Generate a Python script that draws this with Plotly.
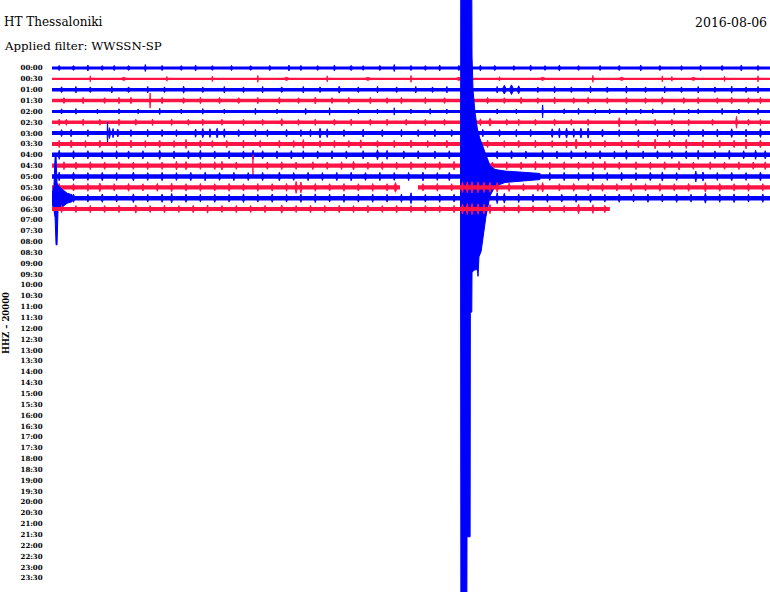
import plotly.graph_objects as go

# ---------------- data ----------------
time_labels = ["00:00", "00:30", "01:00", "01:30", "02:00", "02:30", "03:00", "03:30",
               "04:00", "04:30", "05:00", "05:30", "06:00", "06:30", "07:00", "07:30",
               "08:00", "08:30", "09:00", "09:30", "10:00", "10:30", "11:00", "11:30",
               "12:00", "12:30", "13:00", "13:30", "14:00", "14:30", "15:00", "15:30",
               "16:00", "16:30", "17:00", "17:30", "18:00", "18:30", "19:00", "19:30",
               "20:00", "20:30", "21:00", "21:30", "22:00", "22:30", "23:00", "23:30"]

# minutes covered by data in each recorded row (rows 00:00 .. 06:30)
row_start = [0.0] * 14
row_end = [30.0] * 13 + [23.31]
# data gap in row 05:30 (minutes)
gap_row = 11
gap_from, gap_to = 14.54, 15.29

# background noise level of each row (trace thickness, px)
noise_width = [3.0, 2.2, 3.4, 3.4, 3.0, 3.4, 4.0, 4.0, 4.6, 4.2, 4.6, 4.2, 4.6, 4.0]

# noise bursts per row: (minute, half amplitude in row units, duration in minutes)
s00 = [(0.3, .24, .1), (0.9, .22, .15), (1.5, .28, .08), (2.1, .22, .12), (2.6, .24, .1), (3.2, .22, .15),
       (3.9, .32, .08), (4.6, .24, .1), (5.4, .22, .12), (6.0, .28, .08), (6.7, .22, .12), (7.5, .24, .1),
       (8.3, .22, .15), (9.1, .24, .1), (9.9, .28, .08), (10.4, .24, .1), (11.1, .22, .12), (11.8, .28, .08),
       (12.5, .24, .15), (13.0, .22, .1), (13.7, .24, .12), (14.3, .32, .08), (15.0, .24, .12), (15.6, .22, .1),
       (16.2, .28, .08), (17.0, .24, .12), (17.9, .28, .08), (18.5, .24, .12), (19.3, .22, .1), (20.0, .28, .08),
       (20.6, .22, .12), (21.2, .28, .1), (22.0, .22, .12), (22.9, .24, .1), (23.7, .24, .12), (24.6, .28, .08),
       (25.4, .24, .12), (26.3, .22, .1), (27.1, .28, .08), (28.0, .24, .12), (28.8, .28, .08), (29.5, .24, .12)]
s01 = [(1.6, .28, .05), (3.0, .15, .3), (4.8, .22, .05), (6.7, .26, .05), (8.6, .32, .05), (9.8, .15, .3),
       (11.5, .28, .05), (13.2, .15, .3), (15.0, .32, .05), (17.0, .15, .3), (18.7, .2, .05), (20.5, .15, .3),
       (22.6, .32, .05), (23.8, .15, .3), (25.5, .28, .05), (25.9, .22, .05), (26.8, .15, .3), (28.1, .24, .05),
       (29.5, .28, .05)]
s02 = [(0.4, .27, .12), (1.0, .3, .08), (1.6, .26, .12), (2.5, .3, .08), (3.2, .26, .15), (4.0, .3, .08),
       (4.7, .26, .12), (5.5, .32, .1), (6.3, .26, .12), (7.2, .3, .08), (8.0, .26, .12), (8.8, .3, .08),
       (9.6, .26, .15), (10.5, .3, .08), (11.2, .26, .12), (12.0, .32, .1), (12.8, .26, .12), (13.6, .3, .08),
       (14.4, .26, .12), (15.2, .3, .08), (15.9, .26, .12), (16.5, .3, .08), (18.6, .3, .08), (18.9, .4, .2),
       (19.2, .45, .2), (19.5, .36, .15), (20.3, .26, .12), (21.0, .3, .08), (21.7, .26, .12), (22.5, .3, .08),
       (23.2, .26, .15), (24.0, .32, .08), (24.8, .26, .12), (25.6, .3, .08), (26.3, .26, .12), (27.0, .3, .08),
       (27.7, .26, .15), (28.4, .32, .08), (29.0, .26, .12), (29.5, .3, .08)]
s03 = [(0.5, .27, .12), (1.3, .3, .08), (2.2, .27, .12), (2.8, .3, .08), (3.3, .3, .1), (4.1, .7, .05),
       (4.6, .3, .1), (5.5, .27, .12), (6.2, .3, .08), (7.0, .3, .1), (7.8, .27, .15), (8.6, .3, .08),
       (9.5, .3, .1), (10.3, .27, .12), (11.0, .32, .08), (11.7, .27, .12), (12.4, .3, .1), (13.3, .3, .08),
       (14.0, .27, .12), (14.6, .3, .1), (15.6, .3, .08), (16.4, .27, .12), (17.2, .3, .1), (18.2, .3, .1),
       (18.9, .27, .12), (19.6, .3, .1), (20.3, .27, .12), (21.0, .32, .08), (21.8, .27, .12), (22.4, .3, .1),
       (23.2, .27, .12), (24.0, .3, .1), (24.8, .27, .12), (25.5, .34, .1), (26.4, .27, .12), (27.0, .3, .08),
       (27.8, .27, .12), (28.4, .3, .1), (29.1, .27, .12), (29.6, .3, .08)]
s04 = [(0.4, .24, .1), (1.0, .26, .08), (1.9, .22, .12), (2.8, .24, .1), (3.6, .22, .12), (4.5, .28, .08),
       (5.4, .22, .12), (6.3, .26, .08), (7.2, .22, .12), (8.5, .28, .08), (9.4, .22, .12), (10.6, .28, .08),
       (11.6, .34, .05), (12.8, .24, .1), (13.6, .22, .12), (14.3, .34, .05), (15.0, .22, .12), (15.8, .26, .08),
       (16.5, .22, .12), (18.6, .24, .1), (19.4, .22, .12), (20.5, .6, .05), (21.4, .24, .1), (22.0, .28, .08),
       (22.7, .22, .12), (23.3, .24, .1), (24.0, .28, .08), (24.6, .22, .12), (25.1, .24, .1), (26.0, .28, .08),
       (26.6, .22, .12), (27.0, .24, .1), (28.0, .28, .08), (28.7, .22, .12), (29.5, .28, .08)]
s05 = [(0.3, .3, .1), (0.6, .28, .12), (1.3, .3, .08), (2.0, .28, .12), (2.8, .3, .08), (3.5, .28, .12),
       (4.2, .3, .08), (5.0, .3, .1), (5.7, .28, .12), (6.3, .3, .08), (7.1, .28, .12), (8.0, .3, .1),
       (8.8, .28, .12), (9.6, .34, .12), (10.3, .28, .1), (11.0, .3, .08), (11.8, .28, .12), (12.5, .3, .1),
       (13.3, .28, .12), (14.0, .3, .08), (14.8, .28, .12), (15.6, .3, .1), (16.4, .28, .12), (17.9, .32, .1),
       (18.3, .36, .15), (19.0, .28, .12), (19.5, .3, .08), (20.2, .28, .12), (21.0, .3, .1), (21.7, .28, .12),
       (22.4, .3, .08), (23.7, .42, .1), (24.4, .3, .12), (25.2, .3, .08), (25.9, .28, .12), (26.6, .3, .1),
       (27.6, .28, .12), (28.6, .55, .08), (29.1, .28, .12), (29.6, .3, .08)]
s06 = [(0.4, .32, .1), (0.8, .34, .12), (1.5, .32, .1), (2.32, 1.0, .04), (2.4, .5, .1), (2.55, .42, .1),
       (2.75, .36, .12), (3.3, .32, .1), (4.0, .34, .08), (4.6, .32, .12), (5.2, .32, .1), (6.0, .38, .1),
       (6.3, .42, .12), (6.6, .4, .1), (6.9, .44, .12), (7.2, .4, .1), (7.8, .32, .12), (8.5, .34, .1),
       (9.0, .32, .1), (9.8, .34, .12), (10.4, .32, .1), (10.8, .34, .08), (11.2, .44, .12), (11.5, .4, .1),
       (12.2, .32, .12), (13.0, .36, .1), (13.8, .32, .12), (14.6, .34, .08), (15.3, .32, .12), (16.0, .34, .1),
       (16.7, .32, .12), (18.0, .34, .1), (18.7, .32, .12), (19.4, .34, .08), (20.0, .34, .1), (20.9, .4, .12),
       (21.2, .44, .1), (21.5, .46, .12), (21.8, .4, .1), (22.1, .44, .12), (22.4, .46, .1), (23.0, .36, .12),
       (23.7, .32, .1), (24.5, .34, .12), (25.3, .34, .1), (26.0, .36, .12), (26.6, .32, .1), (27.2, .34, .12),
       (27.8, .36, .1), (28.4, .4, .12), (29.0, .36, .1), (29.6, .4, .12)]
s07 = [(0.3, .34, .1), (0.8, .36, .12), (1.4, .32, .1), (2.0, .34, .12), (2.7, .32, .1), (3.3, .36, .12),
       (3.9, .32, .1), (4.5, .34, .12), (5.1, .32, .1), (5.6, .42, .1), (6.2, .36, .12), (6.7, .32, .1),
       (7.3, .34, .12), (8.0, .36, .1), (8.7, .32, .12), (9.5, .34, .1), (10.1, .32, .12), (10.5, .4, .1),
       (11.2, .32, .12), (11.8, .34, .1), (12.4, .32, .12), (12.9, .38, .1), (13.6, .32, .12), (14.3, .34, .1),
       (15.0, .36, .12), (15.7, .32, .1), (16.5, .34, .12), (17.3, .32, .1), (18.2, .34, .12), (18.9, .32, .1),
       (19.5, .34, .12), (20.2, .36, .1), (20.9, .32, .12), (21.5, .36, .1), (21.9, .46, .12), (22.5, .34, .1),
       (23.1, .32, .12), (23.8, .34, .1), (24.5, .36, .12), (25.2, .46, .1), (25.8, .34, .12), (26.5, .42, .1),
       (27.2, .34, .12), (27.9, .36, .1), (28.5, .34, .12), (29.0, .46, .1), (29.6, .36, .12)]
s08 = [(0.3, .42, .1), (0.9, .38, .12), (1.5, .38, .1), (2.1, .36, .12), (2.7, .38, .1), (3.2, .36, .12),
       (3.8, .38, .1), (4.5, .42, .12), (5.1, .36, .1), (5.7, .38, .12), (6.2, .42, .1), (6.8, .36, .12),
       (7.4, .38, .1), (8.0, .36, .12), (8.4, .42, .1), (8.8, .38, .12), (9.4, .36, .1), (10.0, .38, .12),
       (10.5, .38, .1), (11.1, .36, .12), (11.7, .38, .1), (12.3, .36, .12), (13.0, .38, .1), (13.6, .46, .12),
       (14.0, .42, .1), (14.7, .36, .12), (15.3, .38, .1), (16.0, .36, .12), (16.6, .38, .1), (17.5, .38, .12),
       (18.6, .36, .1), (19.2, .38, .12), (19.8, .36, .1), (20.5, .42, .12), (21.1, .36, .1), (21.7, .38, .12),
       (22.3, .36, .1), (22.9, .38, .12), (23.5, .36, .1), (24.0, .42, .12), (24.7, .36, .1), (25.3, .38, .12),
       (25.9, .36, .1), (26.5, .38, .12), (27.0, .42, .1), (27.7, .36, .12), (28.3, .42, .1), (28.9, .38, .12),
       (29.4, .42, .1), (29.8, .38, .12)]
s09 = [(0.5, .36, .1), (1.0, .34, .12), (1.6, .36, .1), (2.2, .34, .12), (2.8, .36, .1), (3.4, .34, .12),
       (4.0, .36, .1), (4.6, .34, .12), (5.2, .4, .1), (5.6, .38, .12), (6.2, .34, .1), (6.8, .36, .12),
       (7.1, .4, .1), (7.7, .34, .12), (8.4, 1.0, .03), (9.0, .34, .12), (9.6, .36, .1), (10.2, .34, .12),
       (10.9, .36, .1), (11.5, .34, .12), (12.1, .36, .1), (12.6, .4, .12), (13.2, .34, .1), (13.8, .36, .12),
       (14.4, .34, .1), (15.0, .36, .12), (15.6, .34, .1), (16.2, .36, .12), (16.8, .4, .1), (18.4, .34, .12),
       (19.0, .36, .1), (19.6, .34, .12), (20.2, .4, .1), (20.8, .34, .12), (21.4, .36, .1), (22.0, .34, .12),
       (22.6, .36, .1), (23.1, .4, .12), (23.7, .34, .1), (24.4, .36, .12), (25.0, .34, .1), (25.6, .36, .12),
       (26.2, .4, .1), (26.8, .34, .12), (27.5, .36, .1), (28.1, .34, .12), (28.7, .36, .1), (29.3, .34, .12),
       (29.8, .36, .1)]
s10 = [(0.3, .4, .1), (0.9, .38, .12), (1.5, .36, .1), (2.1, .38, .12), (2.7, .36, .1), (3.4, .4, .12),
       (4.0, .36, .1), (4.6, .38, .12), (5.2, .36, .1), (5.8, .38, .12), (6.4, .4, .1), (7.0, .36, .12),
       (7.6, .38, .1), (8.2, .36, .12), (8.8, .38, .1), (9.5, .4, .12), (10.1, .36, .1), (10.7, .38, .12),
       (11.3, .36, .1), (11.9, .38, .12), (12.5, .4, .1), (13.1, .36, .12), (13.7, .38, .1), (14.3, .36, .12),
       (14.9, .38, .1), (15.5, .4, .12), (16.1, .36, .1), (16.6, .38, .12), (20.8, .36, .1), (21.4, .38, .12),
       (22.0, .36, .1), (22.6, .4, .12), (23.2, .36, .1), (23.8, .38, .12), (24.4, .36, .1), (25.0, .38, .12),
       (25.5, .42, .1), (26.1, .36, .12), (26.9, .5, .1), (27.2, .42, .12), (27.8, .36, .1), (28.4, .38, .12),
       (29.0, .36, .1), (29.6, .4, .12)]
s11 = [(0.3, .36, .1), (0.9, .34, .12), (1.5, .36, .1), (2.0, .4, .12), (2.6, .34, .1), (3.2, .36, .12),
       (3.8, .34, .1), (4.4, .36, .12), (5.0, .4, .1), (5.6, .34, .12), (6.2, .36, .1), (6.8, .34, .12),
       (7.4, .36, .1), (8.0, .34, .12), (8.6, .36, .1), (9.2, .34, .12), (9.8, .36, .1), (10.2, .55, .12),
       (10.4, .5, .12), (11.0, .36, .1), (11.6, .34, .12), (12.2, .36, .1), (12.8, .34, .12), (13.4, .36, .1),
       (14.0, .34, .12), (14.35, .45, .15), (15.5, .34, .12), (16.1, .36, .1), (16.7, .34, .12), (17.15, .48, .12),
       (17.35, .5, .12), (17.55, .52, .12), (17.8, .5, .12), (18.05, .48, .12), (18.3, .46, .12), (18.6, .44, .12),
       (19.1, .38, .1), (19.7, .34, .12), (20.3, .36, .1), (20.5, .44, .12), (21.2, .34, .1), (21.8, .36, .12),
       (22.4, .34, .1), (23.0, .36, .12), (23.6, .34, .1), (24.2, .38, .12), (24.8, .34, .1), (25.4, .36, .12),
       (26.0, .34, .1), (26.6, .36, .12), (27.3, .44, .1), (27.9, .36, .12), (28.5, .34, .1), (29.1, .36, .12),
       (29.7, .34, .1)]
s12 = [(0.9, .38, .12), (1.5, .36, .1), (2.1, .38, .12), (2.7, .36, .1), (3.4, .4, .12), (4.0, .36, .1),
       (4.6, .38, .12), (5.0, .44, .1), (5.6, .38, .12), (6.2, .36, .1), (6.8, .38, .12), (7.4, .36, .1),
       (8.0, .4, .12), (8.6, .36, .1), (9.2, .38, .12), (9.8, .36, .1), (10.4, .38, .12), (11.0, .4, .1),
       (11.6, .36, .12), (12.2, .38, .1), (12.8, .36, .12), (13.4, .38, .1), (14.0, .36, .12), (14.6, .38, .1),
       (15.0, .5, .1), (15.6, .36, .12), (16.2, .38, .1), (16.8, .36, .12), (18.6, .5, .1), (18.9, .45, .12),
       (19.5, .4, .1), (20.1, .36, .12), (20.7, .38, .1), (21.3, .36, .12), (21.9, .38, .1), (22.5, .4, .12),
       (23.1, .36, .1), (23.7, .38, .12), (24.3, .36, .1), (24.9, .38, .12), (25.5, .36, .1), (26.1, .38, .12),
       (26.7, .36, .1), (27.3, .46, .12), (27.9, .38, .1), (28.5, .4, .12), (29.1, .36, .1), (29.7, .38, .12)]
s13 = [(0.4, .34, .1), (1.0, .32, .12), (1.6, .34, .1), (2.2, .32, .12), (2.8, .34, .1), (3.5, .38, .12),
       (4.1, .32, .1), (4.7, .34, .12), (5.3, .32, .1), (5.9, .34, .12), (6.5, .38, .1), (7.1, .32, .12),
       (7.7, .34, .1), (8.3, .32, .12), (8.9, .34, .1), (9.6, .38, .12), (10.2, .32, .1), (10.8, .34, .12),
       (11.4, .32, .1), (12.0, .34, .12), (12.6, .32, .1), (13.2, .34, .12), (13.8, .32, .1), (14.4, .34, .12),
       (15.0, .32, .1), (15.6, .34, .12), (16.2, .32, .1), (16.8, .34, .12), (17.15, .46, .12), (17.35, .5, .12),
       (17.55, .52, .12), (17.8, .48, .12), (18.05, .46, .12), (18.3, .42, .12), (18.9, .34, .1), (19.5, .38, .12),
       (20.1, .32, .1), (20.8, .34, .12), (21.4, .32, .1), (22.0, .44, .12), (22.6, .4, .1), (23.1, .34, .12)]

# teleseismic event in row 05:00 : envelopes in row units
quake_row = 10
quake_up_min = [17.07, 17.09, 17.51, 17.53, 17.55, 17.59, 17.67, 17.76, 17.80, 17.88, 17.97, 18.05,
                18.13, 18.22, 18.30, 18.51, 18.93, 19.55, 20.39]
quake_up = [0.2, 36.9, 36.9, 16.6, 11.1, 8.0, 6.0, 4.6, 4.1, 3.5, 3.0, 2.5,
            2.0, 1.5, 1.0, 0.65, 0.5, 0.41, 0.28]
quake_dn_min = [17.07, 17.09, 17.32, 17.34, 17.47, 17.48, 17.54, 17.55, 17.67, 17.78, 17.80, 17.84,
                17.93, 18.01, 18.13, 18.30, 18.51, 18.93, 19.55, 20.39]
quake_dn = [0.2, 55.3, 55.3, 33.2, 33.2, 12.5, 12.5, 8.8, 8.6, 8.6, 9.2, 7.4,
            6.9, 5.5, 3.7, 1.8, 0.9, 0.55, 0.41, 0.28]

# local event in row 06:00 : envelopes in row units
local_row = 12
local_min = [0.0, 0.08, 0.13, 0.17, 0.21, 0.25, 0.33, 0.46, 0.63, 0.84]
local_up = [0.46, 1.1, 3.8, 3.8, 1.4, 1.2, 1.0, 0.74, 0.46, 0.32]
local_dn = [0.46, 1.1, 1.8, 4.3, 4.3, 1.2, 1.0, 0.74, 0.46, 0.32]

station_title = "HT Thessaloniki"
filter_text = "Applied filter: WWSSN-SP"
date_text = "2016-08-06"
channel_text = "HHZ \u2013 20000"

# ---------------- drawing ----------------
BLUE = "#0000ff"
RED = "#ff1446"
FONT = "DejaVu Serif"

spike_rows = [s00, s01, s02, s03, s04, s05, s06, s07, s08, s09, s10, s11, s12, s13]
events = {quake_row: (quake_up_min, quake_up, quake_dn_min, quake_dn),
          local_row: (local_min, local_up, local_min, local_dn)}

fig = go.Figure()
for i, bursts in enumerate(spike_rows):
    color = BLUE if i % 2 == 0 else RED
    if i == gap_row:
        bx = [row_start[i], gap_from, None, gap_to, row_end[i]]
        by = [i, i, None, i, i]
    else:
        bx = [row_start[i], row_end[i]]
        by = [i, i]
    fig.add_trace(go.Scatter(x=bx, y=by, mode="lines", line=dict(color=color, width=noise_width[i]),
                             hoverinfo="skip", showlegend=False))
    sx, sy = [], []
    for m, a, d in bursts:
        sx += [m - d / 2, m, m + d / 2, m, m - d / 2, None]
        sy += [i, i - a, i, i + a, i, None]
    fig.add_trace(go.Scatter(x=sx, y=sy, mode="lines", fill="toself", fillcolor=color,
                             line=dict(color=color, width=0.9), hoverinfo="skip", showlegend=False))
    if i in events:
        um, uv, dm, dv = events[i]
        ex = list(um) + list(dm)[::-1]
        ey = [i - u for u in uv] + [i + d for d in dv][::-1]
        fig.add_trace(go.Scatter(x=ex, y=ey, mode="lines", fill="toself", fillcolor=color,
                                 line=dict(color=color, width=1), hoverinfo="skip", showlegend=False))

W, H = 770, 592
L = 52
PW = W - L


def px_x(p):
    return (p - L) / PW


def px_y(p):
    return 1 - p / H


fig.update_layout(
    width=W, height=H,
    margin=dict(l=L, r=0, t=0, b=0),
    paper_bgcolor="white", plot_bgcolor="white",
    showlegend=False,
    xaxis=dict(range=[0, 30], visible=False, fixedrange=True),
    yaxis=dict(range=[48.29, -6.267], tickmode="array", tickvals=list(range(len(time_labels))),
               ticktext=time_labels, showgrid=False, zeroline=False, showline=False,
               ticks="outside", ticklen=7, tickcolor="rgba(0,0,0,0)",
               tickfont=dict(family=FONT, size=7, color="black", weight="bold"), fixedrange=True),
    annotations=[
        dict(text=station_title, xref="paper", yref="paper", x=px_x(2), y=px_y(22), xanchor="left",
             yanchor="middle", showarrow=False, font=dict(family=FONT, size=12, color="black")),
        dict(text=filter_text, xref="paper", yref="paper", x=px_x(2), y=px_y(46), xanchor="left",
             yanchor="middle", showarrow=False, font=dict(family=FONT, size=11.8, color="black")),
        dict(text=date_text, xref="paper", yref="paper", x=px_x(769), y=px_y(23), xanchor="right",
             yanchor="middle", showarrow=False, font=dict(family=FONT, size=12.5, color="black")),
        dict(text=channel_text, xref="paper", yref="y", x=px_x(6), y=23.5, xanchor="center",
             yanchor="middle", showarrow=False, textangle=-90,
             font=dict(family=FONT, size=8.5, color="black", weight="bold")),
    ],
)

fig.write_html("out.html", config={"displayModeBar": False},
               post_script="document.body.style.margin='0px';")
